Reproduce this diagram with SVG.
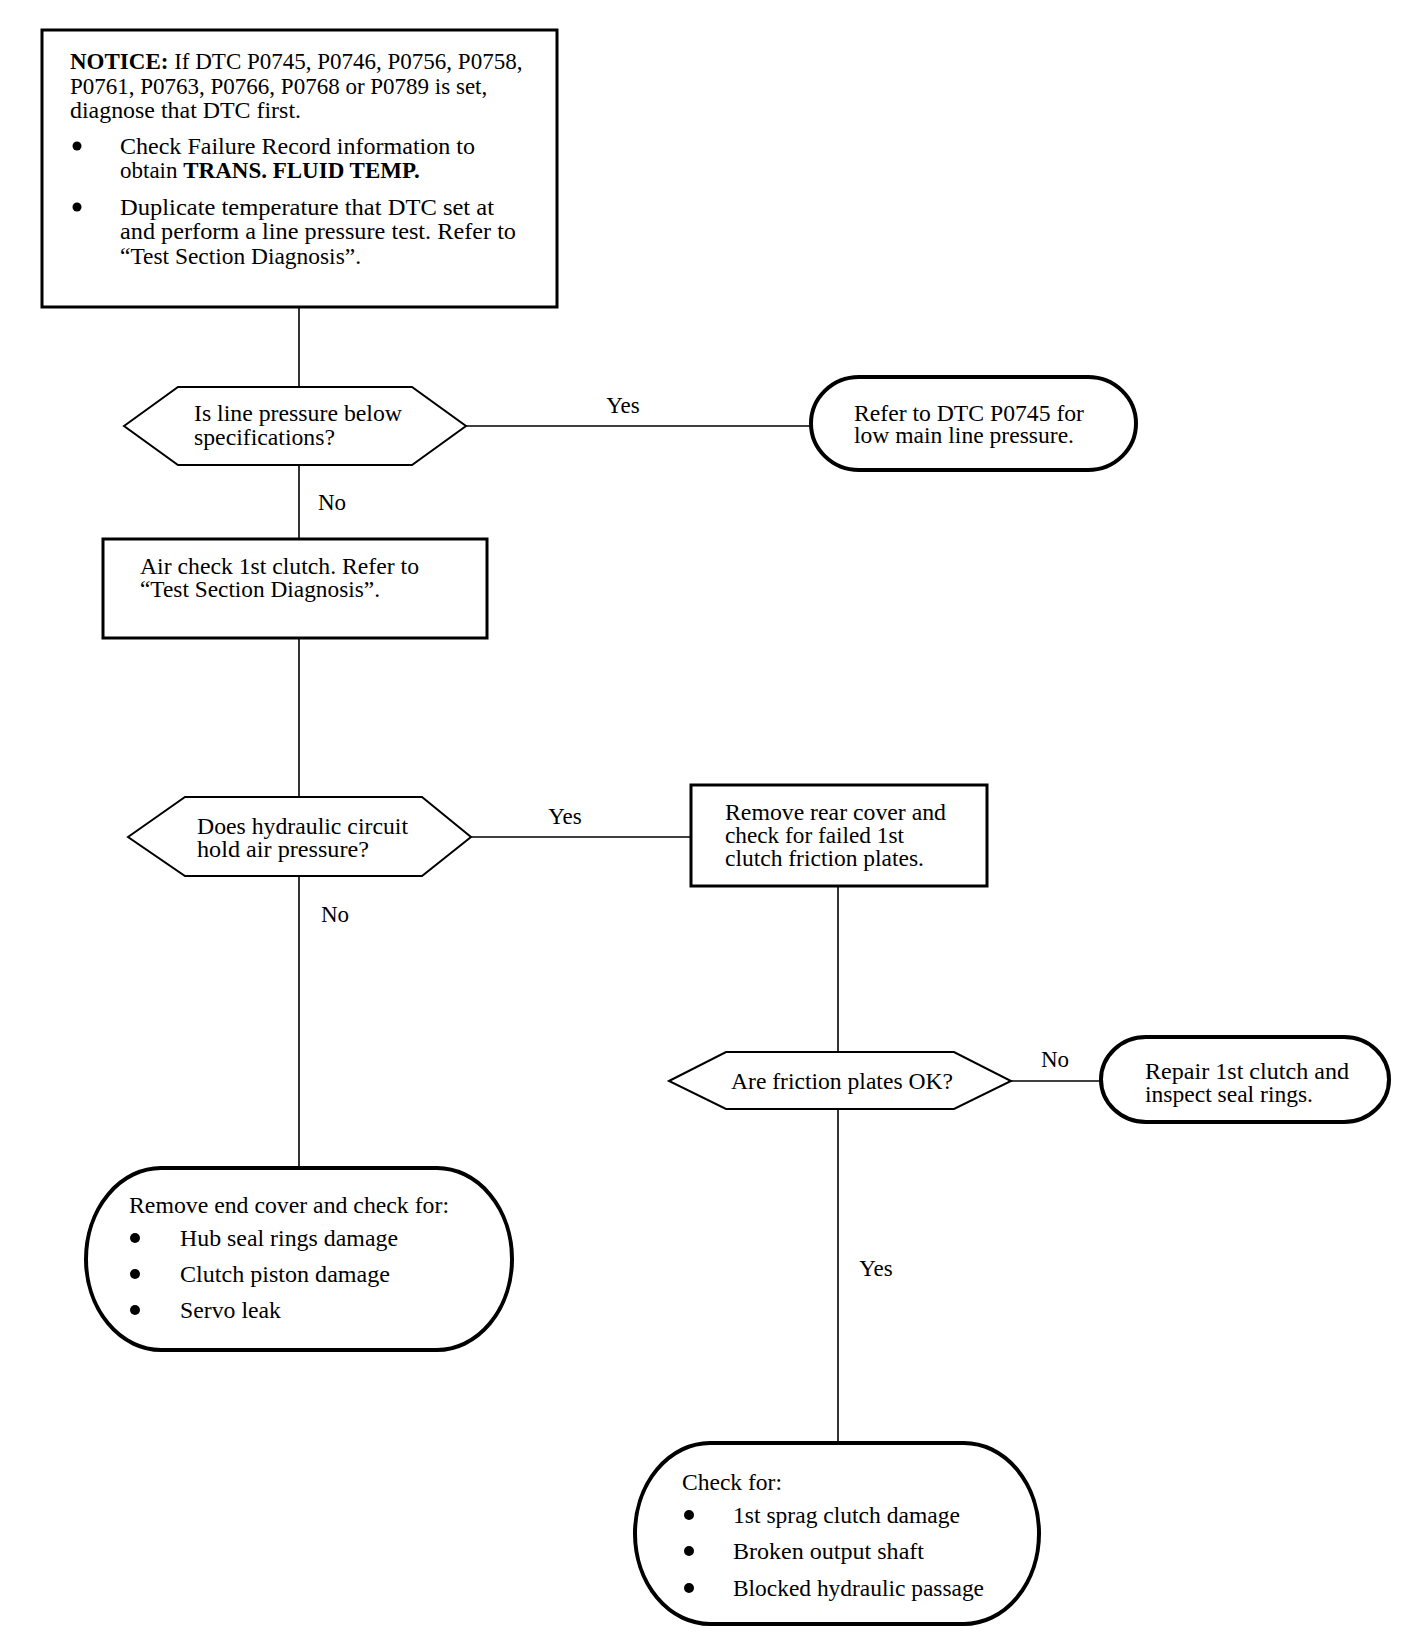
<svg xmlns="http://www.w3.org/2000/svg" width="1408" height="1648" viewBox="0 0 1408 1648">
<style>
text{font-family:"Liberation Serif","Times New Roman",serif;font-size:23px;fill:#000}
.b{font-weight:bold}
.box{fill:#fff;stroke:#000;stroke-width:3}
.term{fill:#fff;stroke:#000;stroke-width:4}
.dec{fill:#fff;stroke:#000;stroke-width:2}
.con line{stroke:#000;stroke-width:1.6}
.dot{fill:#000}
.m{text-anchor:middle}
</style>
<rect width="1408" height="1648" fill="#fff"/>
<g id="connectors" class="con">
<line x1="299" y1="308" x2="299" y2="387"/>
<line x1="299" y1="465" x2="299" y2="539"/>
<line x1="466" y1="426" x2="811" y2="426"/>
<line x1="299" y1="638" x2="299" y2="797"/>
<line x1="471" y1="837" x2="691" y2="837"/>
<line x1="299" y1="876" x2="299" y2="1168"/>
<line x1="838" y1="886" x2="838" y2="1052"/>
<line x1="1011" y1="1081" x2="1101" y2="1081"/>
<line x1="838" y1="1109" x2="838" y2="1443"/>
<text x="623" y="413" class="m">Yes</text>
<text x="318" y="510">No</text>
<text x="565" y="824" class="m">Yes</text>
<text x="321" y="922">No</text>
<text x="1055" y="1067" class="m">No</text>
<text x="876" y="1276" class="m">Yes</text>
</g>
<g id="notice">
<rect class="box" x="42" y="30" width="515" height="277"/>
<text x="70" y="69"><tspan class="b">NOTICE:</tspan> If DTC P0745, P0746, P0756, P0758,</text>
<text x="70" y="94">P0761, P0763, P0766, P0768 or P0789 is set,</text>
<text x="70" y="118" textLength="231" lengthAdjust="spacingAndGlyphs">diagnose that DTC first.</text>
<circle class="dot" cx="77" cy="146" r="4.5"/>
<text x="120" y="154" textLength="355" lengthAdjust="spacingAndGlyphs">Check Failure Record information to</text>
<text x="120" y="178">obtain <tspan class="b">TRANS. FLUID TEMP.</tspan></text>
<circle class="dot" cx="77" cy="207" r="4.5"/>
<text x="120" y="215" textLength="374" lengthAdjust="spacingAndGlyphs">Duplicate temperature that DTC set at</text>
<text x="120" y="239" textLength="396" lengthAdjust="spacingAndGlyphs">and perform a line pressure test. Refer to</text>
<text x="120" y="264" textLength="241" lengthAdjust="spacingAndGlyphs">“Test Section Diagnosis”.</text>
</g>
<g id="q1">
<polygon class="dec" points="124,426 178,387 412,387 466,426 412,465 178,465"/>
<text x="194" y="421" textLength="208" lengthAdjust="spacingAndGlyphs">Is line pressure below</text>
<text x="194" y="445" textLength="141" lengthAdjust="spacingAndGlyphs">specifications?</text>
</g>
<g id="t1">
<rect class="term" x="811" y="377" width="325" height="93" rx="48" ry="46.5"/>
<text x="854" y="421" textLength="230" lengthAdjust="spacingAndGlyphs">Refer to DTC P0745 for</text>
<text x="854" y="443" textLength="220" lengthAdjust="spacingAndGlyphs">low main line pressure.</text>
</g>
<g id="b2">
<rect class="box" x="103" y="539" width="384" height="99"/>
<text x="140" y="574" textLength="279" lengthAdjust="spacingAndGlyphs">Air check 1st clutch. Refer to</text>
<text x="140" y="597" textLength="240" lengthAdjust="spacingAndGlyphs">“Test Section Diagnosis”.</text>
</g>
<g id="q2">
<polygon class="dec" points="128,837 185,797 422,797 471,837 422,876 185,876"/>
<text x="197" y="834" textLength="211" lengthAdjust="spacingAndGlyphs">Does hydraulic circuit</text>
<text x="197" y="857" textLength="172" lengthAdjust="spacingAndGlyphs">hold air pressure?</text>
</g>
<g id="b3">
<rect class="box" x="691" y="785" width="296" height="101"/>
<text x="725" y="820" textLength="221" lengthAdjust="spacingAndGlyphs">Remove rear cover and</text>
<text x="725" y="843" textLength="179" lengthAdjust="spacingAndGlyphs">check for failed 1st</text>
<text x="725" y="866" textLength="199" lengthAdjust="spacingAndGlyphs">clutch friction plates.</text>
</g>
<g id="t4">
<rect class="term" x="86" y="1168" width="426" height="182" rx="75" ry="91"/>
<text x="129" y="1213" textLength="320" lengthAdjust="spacingAndGlyphs">Remove end cover and check for:</text>
<circle class="dot" cx="135" cy="1238" r="5"/>
<text x="180" y="1246" textLength="218" lengthAdjust="spacingAndGlyphs">Hub seal rings damage</text>
<circle class="dot" cx="135" cy="1274" r="5"/>
<text x="180" y="1282" textLength="210" lengthAdjust="spacingAndGlyphs">Clutch piston damage</text>
<circle class="dot" cx="135" cy="1310" r="5"/>
<text x="180" y="1318" textLength="101" lengthAdjust="spacingAndGlyphs">Servo leak</text>
</g>
<g id="q3">
<polygon class="dec" points="669,1081 726,1052 954,1052 1011,1081 954,1109 726,1109"/>
<text x="842" y="1089" class="m" textLength="222" lengthAdjust="spacingAndGlyphs">Are friction plates OK?</text>
</g>
<g id="t3">
<rect class="term" x="1101" y="1037" width="288" height="85" rx="45" ry="42.5"/>
<text x="1145" y="1079" textLength="204" lengthAdjust="spacingAndGlyphs">Repair 1st clutch and</text>
<text x="1145" y="1102" textLength="168" lengthAdjust="spacingAndGlyphs">inspect seal rings.</text>
</g>
<g id="t5">
<rect class="term" x="635" y="1443" width="404" height="181" rx="75" ry="90.5"/>
<text x="682" y="1490" textLength="100" lengthAdjust="spacingAndGlyphs">Check for:</text>
<circle class="dot" cx="689" cy="1515" r="5"/>
<text x="733" y="1523" textLength="227" lengthAdjust="spacingAndGlyphs">1st sprag clutch damage</text>
<circle class="dot" cx="689" cy="1551" r="5"/>
<text x="733" y="1559" textLength="191" lengthAdjust="spacingAndGlyphs">Broken output shaft</text>
<circle class="dot" cx="689" cy="1588" r="5"/>
<text x="733" y="1596" textLength="251" lengthAdjust="spacingAndGlyphs">Blocked hydraulic passage</text>
</g>
</svg>
